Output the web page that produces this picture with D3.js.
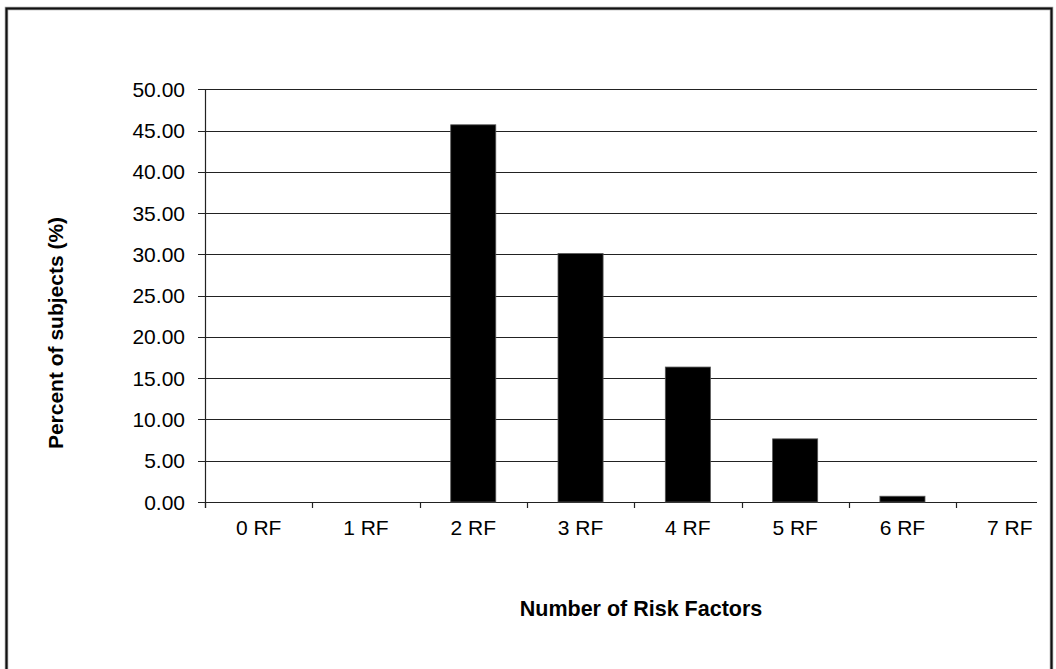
<!DOCTYPE html>
<html>
<head>
<meta charset="utf-8">
<script src="https://cdn.jsdelivr.net/npm/d3@7/dist/d3.min.js"></script>
<style>
  html, body { margin: 0; padding: 0; background: #fff; }
  svg { display: block; }
  text { font-family: "Liberation Sans", Arial, sans-serif; fill: #000; }
</style>
</head>
<body>
<svg id="chart" width="1056" height="669"></svg>
<script>
const categories = ["0 RF", "1 RF", "2 RF", "3 RF", "4 RF", "5 RF", "6 RF", "7 RF"];
const values = [0, 0, 45.7, 30.1, 16.35, 7.65, 0.7, 0];
const yTicks = [0, 5, 10, 15, 20, 25, 30, 35, 40, 45, 50];
const yTitle = "Percent of subjects (%)";
const xTitle = "Number of Risk Factors";

(function () {
const svg = d3.select("#chart");

// outer frame (bottom edge runs off the picture)
svg.append("rect")
  .attr("x", 6.5).attr("y", 8.5)
  .attr("width", 1045).attr("height", 700)
  .attr("fill", "none").attr("stroke", "#9a9a9a").attr("stroke-width", 3.5);
svg.append("rect")
  .attr("x", 6.5).attr("y", 8.5)
  .attr("width", 1045).attr("height", 700)
  .attr("fill", "none").attr("stroke", "#111").attr("stroke-width", 2);

const plotLeft = 205, plotTop = 89.3, plotBottom = 502, gridRight = 1037;
const step = 107.3;

const x = d3.scaleBand()
  .domain(categories)
  .range([plotLeft, plotLeft + step * categories.length])
  .paddingInner(0.58)
  .paddingOuter(0.29);

const y = d3.scaleLinear().domain([0, 50]).range([plotBottom, plotTop]);

// gridlines
const g = svg.append("g");
g.selectAll("line.grid")
  .data(yTicks)
  .join("line")
  .attr("class", "grid")
  .attr("x1", plotLeft - 7).attr("x2", gridRight)
  .attr("y1", d => Math.round(y(d)) + 0.5).attr("y2", d => Math.round(y(d)) + 0.5)
  .attr("stroke", "#222").attr("stroke-width", 1.2);

// y axis labels
g.selectAll("text.ytick")
  .data(yTicks)
  .join("text")
  .attr("class", "ytick")
  .attr("x", 185)
  .attr("y", d => y(d))
  .attr("dy", "0.36em")
  .attr("text-anchor", "end")
  .style("font-size", "21px")
  .text(d => d3.format(".2f")(d));

// y axis line
g.append("line")
  .attr("x1", plotLeft + 0.5).attr("x2", plotLeft + 0.5)
  .attr("y1", plotTop).attr("y2", plotBottom + 6)
  .attr("stroke", "#222").attr("stroke-width", 1.2);

// x category ticks (boundaries between categories)
const boundaries = categories.map((c, i) => plotLeft + step * i);
g.selectAll("line.xtick")
  .data(boundaries.filter(b => b < gridRight))
  .join("line")
  .attr("class", "xtick")
  .attr("x1", d => Math.round(d) + 0.5).attr("x2", d => Math.round(d) + 0.5)
  .attr("y1", plotBottom).attr("y2", plotBottom + 6)
  .attr("stroke", "#222").attr("stroke-width", 1.2);

// bars
svg.append("g").selectAll("rect")
  .data(categories.map((c, i) => ({ c, v: values[i] })).filter(d => d.v > 0))
  .join("rect")
  .attr("x", d => x(d.c))
  .attr("y", d => y(d.v))
  .attr("width", x.bandwidth())
  .attr("height", d => y(0) - y(d.v))
  .attr("fill", "#000")
  .attr("stroke", "#555").attr("stroke-width", 0.8);

// x labels
svg.append("g").selectAll("text")
  .data(categories)
  .join("text")
  .attr("x", d => x(d) + x.bandwidth() / 2)
  .attr("y", 535)
  .attr("text-anchor", "middle")
  .style("font-size", "21px")
  .text(d => d);

// axis titles
svg.append("text")
  .attr("transform", "translate(63,333) rotate(-90)")
  .attr("text-anchor", "middle")
  .style("font-size", "21px")
  .style("font-weight", "bold")
  .text(yTitle);

svg.append("text")
  .attr("x", 641)
  .attr("y", 616)
  .attr("text-anchor", "middle")
  .style("font-size", "21.5px")
  .style("font-weight", "bold")
  .text(xTitle);
})();
</script>
</body>
</html>
